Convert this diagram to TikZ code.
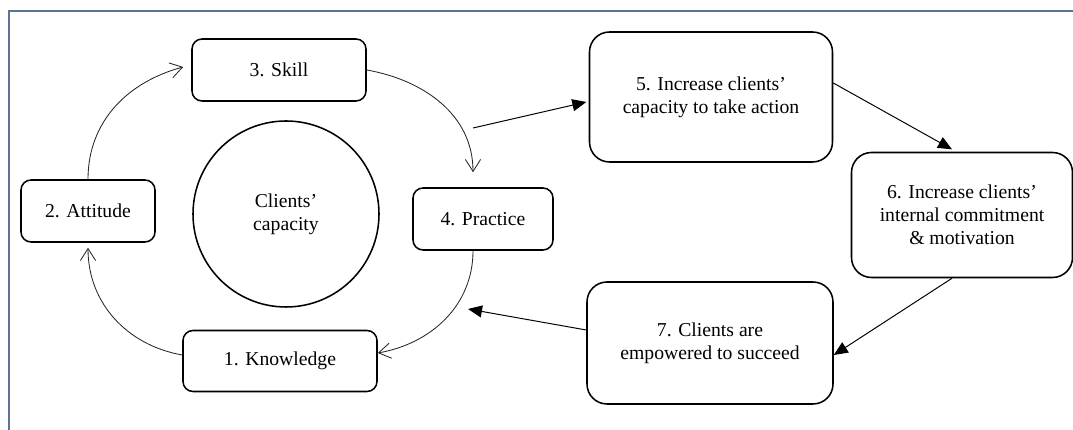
\documentclass[tikz,border=0pt]{standalone}
\usepackage{fontspec}
\setmainfont{Liberation Serif}
\usetikzlibrary{arrows.meta}
\definecolor{framecol}{HTML}{5B7496}

\begin{document}
\begin{tikzpicture}[
        font=\fontsize{14}{16.5}\selectfont,
        smallbox/.style={draw, line width=1.1pt, rounded corners=0.25cm, minimum height=1.55cm, align=center},
        bigbox/.style={draw, line width=1.1pt, rounded corners=0.5cm, align=center},
        cyc/.style={-{Straight Barb[length=0.3cm,width=0.38cm]}, line width=0.6pt, black!85},
        flow/.style={-{Triangle[length=0.35cm,width=0.3cm]}, line width=0.7pt}
    ]
        \useasboundingbox (0,0) rectangle (26.825,10.75);
        \draw[framecol, line width=1.4pt] (26.825,10.475) -- (0.225,10.475) -- (0.225,0);
        % inner cycle
        \node[draw, circle, line width=1.1pt, minimum size=4.65cm, align=center] (core) at (7.15,5.4) {Clients’\\capacity};
        \node[smallbox, minimum width=4.85cm, minimum height=1.525cm] (knowledge) at (7.0,1.725) {1. Knowledge};
        \node[smallbox, minimum width=3.35cm] (attitude) at (2.2,5.475) {2. Attitude};
        \node[smallbox, minimum width=4.35cm] (skill) at (6.975,9.0) {3. Skill};
        \node[smallbox, minimum width=3.5cm] (practice) at (12.075,5.275) {4. Practice};
        \draw[cyc] (knowledge.west) ++(0,0.15) to[out=170,in=-90] ([yshift=-0.125cm]attitude.south);
        \draw[cyc] (attitude.north) to[out=90,in=195] ([xshift=-0.2cm,yshift=0.075cm]skill.west);
        \draw[cyc] (skill.east) to[out=-10,in=90] ([xshift=-0.25cm,yshift=0.375cm]practice.north);
        \draw[cyc] ([xshift=-0.25cm]practice.south) to[out=-90,in=10] ([yshift=0.2cm]knowledge.east);
        % outer steps
        \node[bigbox, minimum width=6.075cm, minimum height=3.25cm] (action) at (17.775,8.325) {5. Increase clients’\\capacity to take action};
        \node[bigbox, minimum width=5.525cm, minimum height=3.125cm] (commit) at (24.05,5.375) {6. Increase clients’\\internal commitment\\\& motivation};
        \node[bigbox, minimum width=6.15cm, minimum height=3.05cm] (succeed) at (17.75,2.175) {7. Clients are\\empowered to succeed};
        \coordinate (leave) at (11.825,7.55);
        \coordinate (back) at (11.7,3.025);
        \draw[flow] (leave) -- ([xshift=-0.06cm,yshift=-0.125cm]action.west);
        \draw[flow] ([yshift=0.35cm]action.east) -- ([xshift=-0.25cm,yshift=0.06cm]commit.north);
        \draw[flow] ([xshift=-0.25cm]commit.south) -- ([yshift=-0.3cm]succeed.east);
        \draw[flow] ([yshift=0.325cm]succeed.west) -- (back);
    \end{tikzpicture}
\end{document}
